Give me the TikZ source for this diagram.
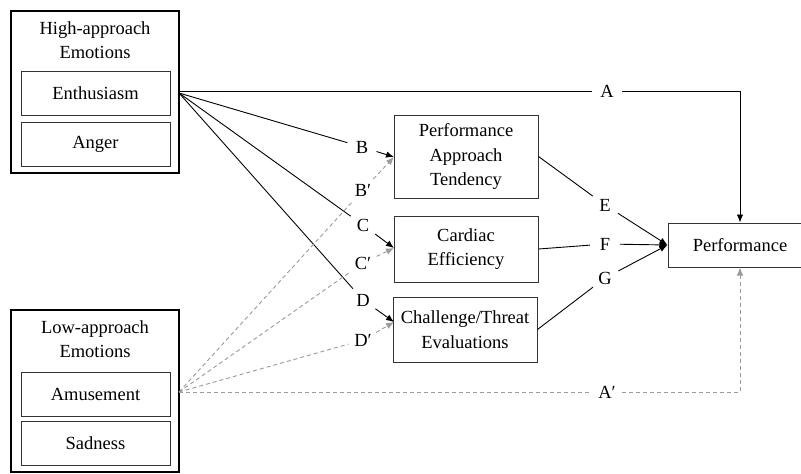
\documentclass[tikz,border=0pt]{standalone}
\usepackage{fontspec}
\setmainfont{Liberation Serif}
\usetikzlibrary{arrows.meta}
\definecolor{dashgray}{RGB}{155,155,155}
\begin{document}
\begin{tikzpicture}[x=1pt,y=-1pt,
  every node/.style={font=\fontsize{18.5}{24.5}\selectfont, align=center},
  outerbox/.style={draw, line width=2.3pt, minimum width=168pt, minimum height=162pt, inner sep=0pt},
  itembox/.style={draw=black!80, line width=1pt, minimum width=149pt, minimum height=44pt, inner sep=0pt},
  midbox/.style={draw=black!80, line width=1pt, minimum width=144pt, inner sep=0pt},
  lbl/.style={circle, minimum size=30pt, inner sep=0pt},
  solidarrow/.style={line width=0.9pt, -{Latex[length=8pt,width=6.5pt]}},
  solidline/.style={line width=0.9pt},
  dashline/.style={line width=0.9pt, dashgray, dash pattern=on 4pt off 3pt},
  dasharrow/.style={dashline, -{Latex[length=8pt,width=6.5pt]}}
]
\clip (0,0) rectangle (801,474);
\fill[white] (0,0) rectangle (801,474);

% left groups
\node[outerbox] (high) at (95,92) {};
\node (hightitle) at (95,40) {High-approach\\Emotions};
\node[itembox] (enth) at (95.5,93) {Enthusiasm};
\node[itembox] (anger) at (95.5,144) {Anger};

\node[outerbox] (low) at (95,391) {};
\node (lowtitle) at (95,339) {Low-approach\\Emotions};
\node[itembox] (amus) at (95.5,394) {Amusement};
\node[itembox] (sad) at (95.5,443) {Sadness};

% mediators and outcome
\node[midbox, minimum height=83pt] (pat) at (466,156.5) {Performance\\Approach\\Tendency};
\node[midbox, minimum height=66pt] (card) at (466,249) {Cardiac\\Efficiency};
\node[midbox, minimum height=65pt] (chal) at (465,329.5) {Challenge/Threat\\Evaluations};
\node[midbox, minimum height=44pt] (perf) at (740,245) {Performance};

% coordinates
\coordinate (hs) at (179,93);
\coordinate (hsA) at (179,91);
\coordinate (ls) at (179,392);
\coordinate (aturn) at (740,91);
\coordinate (apturn) at (740,392);
\coordinate (patin) at (394,157);
\coordinate (cardin) at (394,248);
\coordinate (chalin) at (394,322);

% path labels
\node[lbl] (labA) at (607,91) {A};
\node[lbl] (labAp) at (607,392) {A′};
\node[lbl] (labB) at (362,147) {B};
\node[lbl] (labBp) at (363,190) {B′};
\node[lbl] (labC) at (363,225) {C};
\node[lbl] (labCp) at (363,263) {C′};
\node[lbl] (labD) at (363,300) {D};
\node[lbl] (labDp) at (363,340) {D′};
\node[lbl] (labE) at (605,205) {E};
\node[lbl] (labF) at (605,244) {F};
\node[lbl] (labG) at (605,278) {G};

% A path
\draw[solidline] (hsA) -- (labA);
\draw[solidarrow] (labA) -- (aturn) -- (perf.north);
% A' path
\draw[dashline] (ls) -- (labAp);
\draw[dasharrow] (labAp) -- (apturn) -- (perf.south);

% B, C, D (solid)
\draw[solidline] (hs) -- (labB);
\draw[solidarrow] (labB) -- (patin);
\draw[solidline] (hs) -- (labC);
\draw[solidarrow] (labC) -- (cardin);
\draw[solidline] (hs) -- (labD);
\draw[solidarrow] (labD) -- (chalin);

% B', C', D' (dashed)
\draw[dashline] (ls) -- (labBp);
\draw[dasharrow] (labBp) -- (patin);
\draw[dashline] (ls) -- (labCp);
\draw[dasharrow] (labCp) -- (cardin);
\draw[dashline] (ls) -- (labDp);
\draw[dasharrow] (labDp) -- (chalin);

% E, F, G
\draw[solidline] (pat.east) -- (labE);
\draw[solidarrow] (labE) -- (perf.west);
\draw[solidline] (card.east) -- (labF);
\draw[solidarrow] (labF) -- (perf.west);
\draw[solidline] (chal.east) -- (labG);
\draw[solidarrow] (labG) -- (perf.west);
\end{tikzpicture}
\end{document}
